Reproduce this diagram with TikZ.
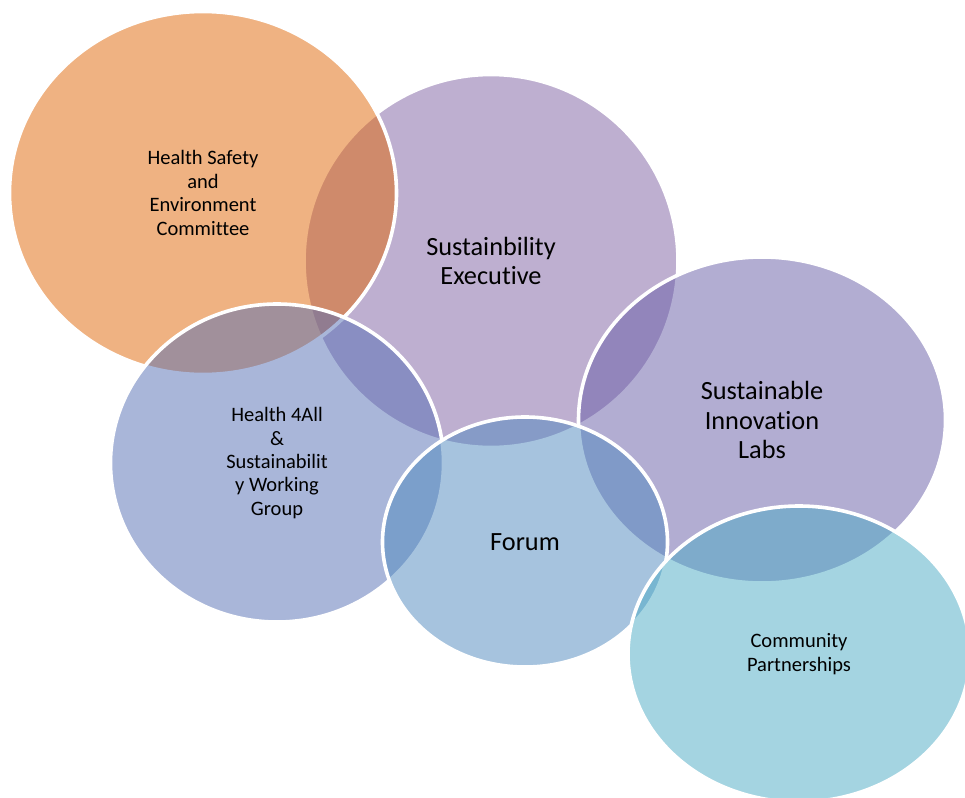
\documentclass[tikz,border=0pt]{standalone}
\usepackage{fontspec}
\setmainfont{Carlito}[Ligatures={NoCommon,NoContextual}]
\usetikzlibrary{shapes.geometric}
\definecolor{cOrange}{RGB}{225,103,7}
\definecolor{cExec}{RGB}{127,97,163}
\definecolor{cHealth}{RGB}{85,111,181}
\definecolor{cForum}{RGB}{79,137,191}
\definecolor{cLabs}{RGB}{103,93,167}
\definecolor{cComm}{RGB}{75,171,197}
\tikzset{
  bubble/.style={ellipse, draw=white, line width=3.6pt, fill opacity=0.5,
    draw opacity=1, text opacity=1, text=black, inner sep=0pt, align=center},
  smalltxt/.style={font=\fontsize{20.5}{23.4}\selectfont},
  bigtxt/.style={font=\fontsize{26.3}{29.5}\selectfont}
}
\begin{document}
\begin{tikzpicture}[x=1pt,y=-1pt]
\useasboundingbox (0,0) rectangle (965,797);
\clip (0,0) rectangle (965,797);
\fill[white] (0,0) rectangle (965,797);
\node[bubble, bigtxt, fill=cExec, minimum width=374pt, minimum height=373pt] (exec) at (491,261) {Sustainbility\\Executive};
\node[bubble, smalltxt, fill=cOrange, minimum width=387pt, minimum height=363pt] (hse) at (203,193) {Health Safety\\and\\Environment\\Committee};
\node[bubble, smalltxt, fill=cHealth, minimum width=333pt, minimum height=318pt] (h4all) at (277,463) {Health 4All\\\&\\Sustainabilit\\y Working\\Group};
\node[bubble, bigtxt, fill=cLabs, minimum width=367pt, minimum height=326pt] (labs) at (762,420) {Sustainable\\Innovation\\Labs};
\node[bubble, bigtxt, fill=cForum, minimum width=285pt, minimum height=250pt] (forum) at (525,542) {Forum};
\node[bubble, smalltxt, fill=cComm, minimum width=342pt, minimum height=296pt] (comm) at (799,654) {Community\\Partnerships};
\end{tikzpicture}
\end{document}
